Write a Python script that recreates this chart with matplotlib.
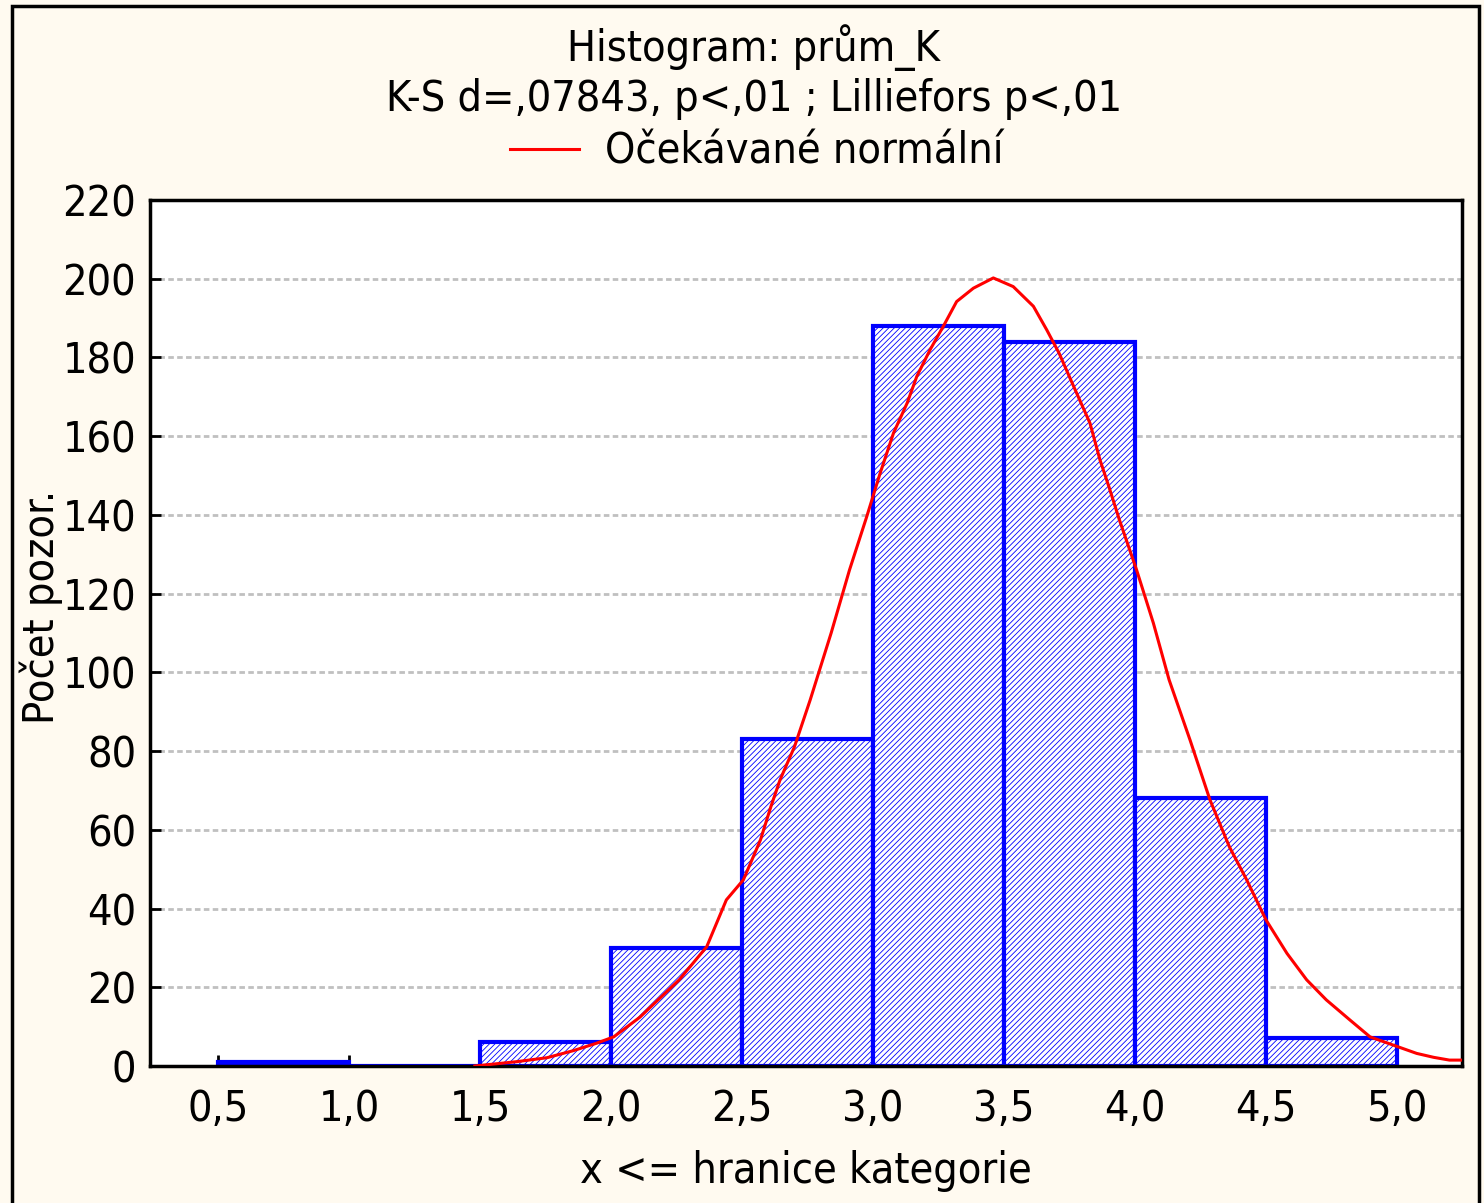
"""Histogram of prům_K with expected normal curve (Statistica style)."""
import matplotlib
matplotlib.use("Agg")
import matplotlib.pyplot as plt
from matplotlib import font_manager
from matplotlib.patches import Rectangle
from matplotlib.ticker import FuncFormatter, MultipleLocator

# ── data ─────────────────────────────────────────────────────────────────────
bin_edges = [0.5, 1.0, 1.5, 2.0, 2.5, 3.0, 3.5, 4.0, 4.5, 5.0]
counts = [1, 0, 6, 30, 83, 188, 184, 68, 7]

curve_x = [1.48, 1.64, 1.755, 1.856, 1.945, 2.01, 2.11, 2.26, 2.365, 2.44,
           2.505, 2.57, 2.61, 2.645, 2.70, 2.76, 2.84, 2.91, 2.976, 3.027,
           3.078, 3.13, 3.167, 3.218, 3.268, 3.319, 3.383, 3.459, 3.535,
           3.612, 3.663, 3.71, 3.76, 3.828, 3.866, 3.90, 3.94, 4.006, 4.07,
           4.13, 4.21, 4.286, 4.36, 4.426, 4.50, 4.58, 4.655, 4.73, 4.82,
           4.897, 4.986, 5.075, 5.14, 5.20, 5.25]
curve_y = [0.0, 1.1, 2.1, 3.9, 5.8, 7.4, 12.4, 21.9, 30.3, 42.2,
           47.3, 57.4, 65.9, 72.7, 81.1, 93.0, 110.0, 126.0, 139.6, 150.6,
           160.8, 168.4, 175.2, 182.0, 187.9, 194.2, 197.6, 200.2, 198.0,
           193.0, 187.0, 181.1, 173.5, 163.3, 154.0, 147.2, 138.8, 126.0, 112.5,
           98.1, 82.8, 67.6, 55.7, 47.3, 37.1, 28.6, 21.9, 16.8, 11.7,
           7.4, 5.3, 3.2, 2.2, 1.5, 1.5]

title = "Histogram: prům_K\nK-S d=,07843, p<,01 ; Lilliefors p<,01"
legend_label = "Očekávané normální"
x_label = "x <= hranice kategorie"
y_label = "Počet pozor."

# ── style: look for a narrow face, the original text is very condensed ──────
fonts = font_manager.fontManager.ttflist
names = {f.name for f in fonts}
if "Liberation Sans Narrow" in names:
    family, stretch = "Liberation Sans Narrow", "normal"
elif any(f.name == "DejaVu Sans" and "condensed" in str(f.stretch) for f in fonts):
    family, stretch = "DejaVu Sans", "condensed"
else:
    family, stretch = "Liberation Sans", "normal"
plt.rcParams["font.family"] = [family, "DejaVu Sans"]
plt.rcParams["font.stretch"] = stretch
plt.rcParams["hatch.linewidth"] = 0.6

W, H = 1484, 1203
FS = 31
fig = plt.figure(figsize=(W / 100, H / 100), dpi=100, facecolor="#FFFAF0")
ax = fig.add_axes([150 / W, 1 - 1066 / H, (1462 - 150) / W, (1066 - 200) / H])
ax.set_facecolor("white")

# outer frame
fig.patches.append(Rectangle((12 / W, -0.05), (1479 - 12) / W, 1 - 6 / H + 0.05,
                             transform=fig.transFigure, fill=False,
                             edgecolor="black", linewidth=2.5))

widths = [b - a for a, b in zip(bin_edges[:-1], bin_edges[1:])]
ax.bar(bin_edges[:-1], counts, width=widths, align="edge",
       facecolor="white", edgecolor="#0000FF", hatch="//////",
       linewidth=3, zorder=2)
ax.plot(curve_x, curve_y, color="#FF0000", linewidth=2.2, zorder=3,
        label=legend_label)

ax.set_xlim(0.24, 5.248)
ax.set_ylim(0, 220)
ax.xaxis.set_major_locator(MultipleLocator(0.5))
ax.yaxis.set_major_locator(MultipleLocator(20))
ax.xaxis.set_major_formatter(FuncFormatter(lambda v, p: f"{v:.1f}".replace(".", ",")))
ax.yaxis.set_major_formatter(FuncFormatter(lambda v, p: f"{v:.0f}"))

ax.grid(axis="y", color="#C0C0C0", linestyle=(0, (2, 1.2)), linewidth=2, zorder=1)
ax.set_axisbelow(True)
for s in ax.spines.values():
    s.set_linewidth(2.5)
ax.tick_params(direction="in", length=8, width=2, labelsize=FS, pad=10)
ax.tick_params(axis="x", pad=16)

ax.set_xlabel(x_label, fontsize=FS, labelpad=14)
ax.set_ylabel(y_label, fontsize=FS)
ax.yaxis.set_label_coords(-0.066, 0.53)

fig.text(0.508, 1 - 72 / H, title, ha="center", va="center", fontsize=FS,
         linespacing=1.2)
fig.legend(loc="center", bbox_to_anchor=(0.51, 1 - 152 / H), frameon=False,
           fontsize=FS, handlelength=1.6, handletextpad=0.6)

fig.savefig("out.png", dpi=100, facecolor=fig.get_facecolor())
